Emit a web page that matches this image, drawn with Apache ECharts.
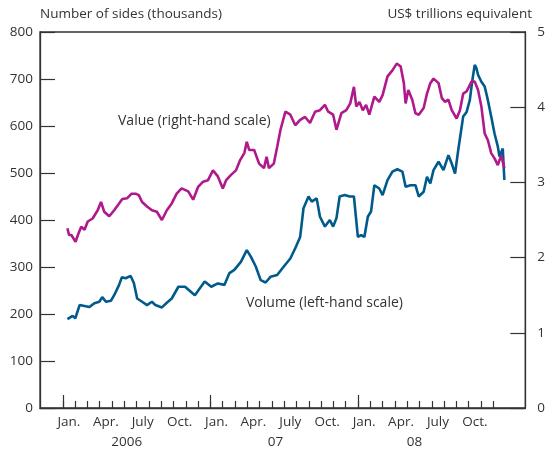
<!DOCTYPE html>
<html>
<head>
<meta charset="utf-8">
<script src="https://cdn.jsdelivr.net/npm/echarts@6/dist/echarts.min.js"></script>
<style>
  html, body { margin: 0; padding: 0; background: #fff; }
  #main { width: 548px; height: 450px; }
</style>
</head>
<body>
<div id="main"></div>
<script>
// x positions are months since Jan 2006 (0 = 1 Jan 2006)
const volMonths = [0.38, 0.80, 1.02, 1.37, 1.77, 2.17, 2.57, 2.97, 3.21, 3.51, 3.91, 4.18, 4.58, 4.80, 5.12, 5.52, 5.78, 6.05, 6.45, 6.85,
  7.25, 7.53, 8.06, 8.46, 8.86, 9.40, 9.94, 10.74, 11.54, 12.07, 12.61, 13.15, 13.55, 13.95, 14.48, 14.96, 15.29, 15.69, 16.09, 16.49,
  16.89, 17.43, 17.97, 18.50, 18.90, 19.30, 19.57, 19.98, 20.24, 20.64, 20.91, 21.31, 21.71, 21.98, 22.25, 22.51, 22.92, 23.32, 23.67, 23.99,
  24.26, 24.52, 24.80, 25.06, 25.33, 25.73, 26.00, 26.40, 26.80, 27.20, 27.61, 27.87, 28.27, 28.67, 28.94, 29.34, 29.61, 29.88, 30.14, 30.55,
  30.95, 31.35, 31.62, 31.89, 32.15, 32.55, 32.83, 33.09, 33.28, 33.49, 33.63, 33.76, 34.03, 34.30, 34.56, 34.83, 35.10, 35.37, 35.50, 35.77, 35.90];
const volSides = [189, 196, 191, 219, 217, 215, 223, 226, 236, 226, 228, 240, 262, 278, 276, 281, 266, 233, 226, 219,
  226, 219, 214, 224, 233, 258, 258, 240, 269, 258, 265, 262, 287, 294, 311, 336, 322, 301, 272, 267,
  279, 283, 301, 318, 340, 364, 425, 450, 439, 446, 407, 386, 400, 386, 404, 450, 453, 450, 450, 364,
  368, 364, 407, 418, 474, 467, 453, 485, 503, 508, 503, 471, 474, 474, 450, 460, 492, 478, 506, 524,
  506, 538, 520, 499, 549, 620, 630, 655, 694, 730, 723, 709, 694, 684, 655, 620, 584, 556, 535, 552, 485];

const valMonths = [0.38, 0.51, 0.70, 1.04, 1.23, 1.50, 1.77, 2.03, 2.43, 2.84, 3.11, 3.37, 3.78, 4.18, 4.58, 4.84, 5.24, 5.60, 5.92, 6.18,
  6.45, 6.85, 7.25, 7.65, 8.06, 8.46, 8.86, 9.26, 9.66, 10.20, 10.60, 11.00, 11.41, 11.81, 12.21, 12.61, 13.01, 13.28, 13.68, 14.08,
  14.43, 14.76, 14.96, 15.16, 15.56, 15.96, 16.36, 16.57, 16.76, 17.16, 17.43, 17.70, 18.10, 18.50, 18.90, 19.30, 19.70, 20.10, 20.51, 20.91,
  21.31, 21.58, 21.98, 22.25, 22.65, 23.05, 23.37, 23.67, 23.86, 24.12, 24.39, 24.66, 24.92, 25.33, 25.73, 26.00, 26.40, 26.80, 27.15, 27.47,
  27.73, 27.87, 28.09, 28.41, 28.67, 28.94, 29.34, 29.61, 29.88, 30.14, 30.55, 30.82, 31.08, 31.35, 31.62, 32.02, 32.29, 32.55, 32.83, 33.23,
  33.49, 33.76, 34.03, 34.30, 34.56, 34.83, 35.10, 35.37, 35.64, 35.90];
const valTrillions = [2.39, 2.30, 2.30, 2.21, 2.30, 2.41, 2.37, 2.48, 2.52, 2.63, 2.74, 2.61, 2.55, 2.63, 2.72, 2.78, 2.79, 2.85, 2.85, 2.83,
  2.74, 2.68, 2.63, 2.61, 2.50, 2.63, 2.72, 2.85, 2.92, 2.88, 2.77, 2.94, 3.01, 3.03, 3.16, 3.08, 2.92, 3.03, 3.10, 3.16,
  3.30, 3.39, 3.54, 3.43, 3.43, 3.25, 3.19, 3.34, 3.19, 3.25, 3.47, 3.70, 3.94, 3.90, 3.76, 3.83, 3.87, 3.79, 3.94, 3.96,
  4.03, 3.94, 3.90, 3.70, 3.92, 3.96, 4.05, 4.27, 4.01, 4.07, 3.96, 4.03, 3.90, 4.14, 4.07, 4.16, 4.41, 4.49, 4.58, 4.54,
  4.32, 4.05, 4.23, 4.10, 3.92, 3.90, 3.99, 4.18, 4.32, 4.38, 4.32, 4.12, 4.07, 4.10, 3.96, 3.85, 3.96, 4.18, 4.21, 4.34,
  4.34, 4.23, 4.01, 3.65, 3.56, 3.39, 3.32, 3.23, 3.36, 3.19];

const monthTicks = [...Array(36).keys()];
const janTicks = [0, 12, 24];
const monthNames = ['Jan.', 'Apr.', 'July', 'Oct.'];
const quarterLabelPos = [0.5, 3.5, 6.5, 9.5, 12.5, 15.5, 18.5, 21.5, 24.5, 27.5, 30.5, 33.5];
const yearLabels = ['2006', '07', '08'];
const yearLabelPos = [5.2, 17.3, 28.6];

const FONT = '"Open Sans", "Noto Sans", sans-serif';
const TEXT = '#333';
const AX = '#333';
const FS = 13.5;

const chart = echarts.init(document.getElementById('main'));

const xBase = {
  type: 'value', min: -1.85, max: 37.6, position: 'bottom',
  splitLine: { show: false }
};

chart.setOption({
  animation: false,
  grid: { left: 40, right: 17, top: 32, bottom: 42, show: true, borderColor: AX, borderWidth: 1.3, backgroundColor: 'transparent' },
  graphic: [
    { type: 'text', left: 40, top: 7, style: { text: 'Number of sides (thousands)', font: FS + 'px ' + FONT, fill: TEXT } },
    { type: 'text', right: 16, top: 7, style: { text: 'US$ trillions equivalent', font: FS + 'px ' + FONT, fill: TEXT } },
    { type: 'text', left: 118, top: 114, style: { text: 'Value (right-hand scale)', font: '14px ' + FONT, fill: TEXT } },
    { type: 'text', left: 246, top: 296, style: { text: 'Volume (left-hand scale)', font: '14px ' + FONT, fill: TEXT } }
  ],
  xAxis: [
    Object.assign({}, xBase, {
      axisLine: { show: true, onZero: false, lineStyle: { color: AX, width: 1.3 } },
      axisTick: { show: true, inside: true, length: 7, customValues: monthTicks, lineStyle: { color: AX, width: 1.2 } },
      axisLabel: {
        show: true, margin: 7, color: TEXT, fontFamily: FONT, fontSize: FS,
        customValues: quarterLabelPos,
        formatter: v => monthNames[Math.round(v - 0.5) % 12 / 3]
      }
    }),
    Object.assign({}, xBase, {
      axisLine: { show: false, onZero: false },
      axisTick: { show: true, inside: true, length: 13, customValues: janTicks, lineStyle: { color: AX, width: 1.2 } },
      axisLabel: {
        show: true, margin: 27, color: TEXT, fontFamily: FONT, fontSize: FS,
        customValues: yearLabelPos,
        formatter: v => yearLabels[yearLabelPos.indexOf(v)]
      }
    })
  ],
  yAxis: [
    {
      type: 'value', min: 0, max: 800, interval: 100, position: 'left',
      axisLine: { show: true, onZero: false, lineStyle: { color: AX, width: 1.3 } },
      axisTick: { show: true, inside: true, length: 15, lineStyle: { color: AX, width: 1.2 } },
      axisLabel: { margin: 7, color: TEXT, fontFamily: FONT, fontSize: FS },
      splitLine: { show: false }
    },
    {
      type: 'value', min: 0, max: 5, interval: 1, position: 'right',
      axisLine: { show: true, onZero: false, lineStyle: { color: AX, width: 1.3 } },
      axisTick: { show: true, inside: true, length: 15, lineStyle: { color: AX, width: 1.2 } },
      axisLabel: { margin: 12, color: TEXT, fontFamily: FONT, fontSize: FS },
      splitLine: { show: false }
    }
  ],
  series: [
    {
      name: 'Volume', type: 'line', xAxisIndex: 0, yAxisIndex: 0,
      data: volMonths.map((m, i) => [m, volSides[i]]),
      showSymbol: false, lineStyle: { color: '#005a8c', width: 2.6 }, itemStyle: { color: '#005a8c' }
    },
    {
      name: 'Value', type: 'line', xAxisIndex: 0, yAxisIndex: 1,
      data: valMonths.map((m, i) => [m, valTrillions[i]]),
      showSymbol: false, lineStyle: { color: '#b0198c', width: 2.6 }, itemStyle: { color: '#b0198c' }
    }
  ]
});
</script>
</body>
</html>
